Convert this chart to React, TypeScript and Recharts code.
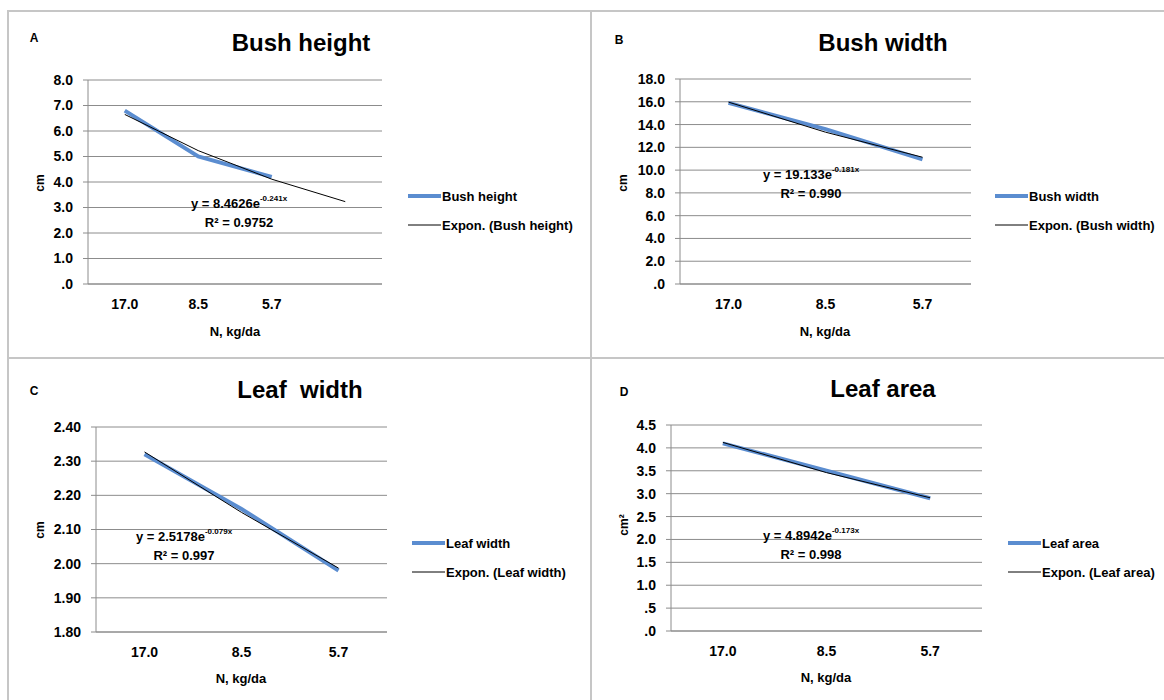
import { LineChart, Line, XAxis, YAxis, CartesianGrid } from "recharts";

// N rates on the category axis (panel A has one forecast slot for the trendline)
const nRates = ["17.0", "8.5", "5.7"];
const nRatesForecast = ["17.0", "8.5", "5.7", ""];

const bushHeight = [6.8, 5.0, 4.2];
const bushHeightTrend = [6.65, 5.23, 4.11, 3.23];
const bushHeightTicks = [0, 1, 2, 3, 4, 5, 6, 7, 8];

const bushWidth = [15.9, 13.6, 10.95];
const bushWidthTrend = [15.97, 13.33, 11.13];
const bushWidthTicks = [0, 2, 4, 6, 8, 10, 12, 14, 16, 18];

const leafWidth = [2.32, 2.16, 1.98];
const leafWidthTrend = [2.327, 2.15, 1.987];
const leafWidthTicks = [1.8, 1.9, 2.0, 2.1, 2.2, 2.3, 2.4];

const leafArea = [4.1, 3.5, 2.9];
const leafAreaTrend = [4.12, 3.46, 2.91];
const leafAreaTicks = [0, 0.5, 1, 1.5, 2, 2.5, 3, 3.5, 4, 4.5];

const FONT = "'Liberation Sans', Arial, sans-serif";
const BLUE = "#5b8dd0";
const GRID = "#8c8c8c";
const FRAME = "#c6c6c6";

const oneDec = (v: number) => v.toFixed(1).replace(/^0/, "");
const twoDec = (v: number) => v.toFixed(2);

type PanelProps = {
  left: number;
  top: number;
  width: number;
  height: number;
  x1: number;
  x2: number;
  y1: number;
  y2: number;
  cats: string[];
  values: number[];
  trend: number[];
  ticks: number[];
  fmt: (v: number) => string;
};

function Panel(p: PanelProps) {
  const data = p.cats.map((c, i) => ({
    cat: c,
    value: i < p.values.length ? p.values[i] : null,
    trend: p.trend[i],
  }));
  const pad = (p.x2 - p.x1) / (2 * p.cats.length);
  const tick = { fontSize: 14, fontWeight: 700, fill: "#000", fontFamily: FONT };
  return (
    <div style={{ position: "absolute", left: p.left, top: p.top }}>
      <LineChart
        width={p.width}
        height={p.height}
        data={data}
        margin={{ top: p.y1 - p.top, right: p.left + p.width - p.x2, bottom: 0, left: 0 }}
      >
        <CartesianGrid vertical={false} stroke={GRID} />
        <XAxis
          dataKey="cat"
          height={p.top + p.height - p.y2}
          interval={0}
          tickLine={false}
          tickSize={0}
          tickMargin={15}
          axisLine={{ stroke: GRID }}
          padding={{ left: pad, right: pad }}
          tick={tick}
        />
        <YAxis
          type="number"
          width={p.x1 - p.left}
          domain={[p.ticks[0], p.ticks[p.ticks.length - 1]]}
          ticks={p.ticks}
          interval={0}
          tickFormatter={p.fmt}
          tickSize={5}
          tickMargin={10}
          axisLine={{ stroke: GRID }}
          tickLine={{ stroke: GRID }}
          tick={tick}
        />
        <Line
          dataKey="value"
          stroke={BLUE}
          strokeWidth={4}
          dot={false}
          isAnimationActive={false}
        />
        <Line
          dataKey="trend"
          stroke="#000"
          strokeWidth={1}
          dot={false}
          isAnimationActive={false}
        />
      </LineChart>
    </div>
  );
}

type NoteProps = {
  letter: string;
  lx: number;
  ly: number;
  title: string;
  tx: number;
  ty: number;
  yLabel: string;
  yx: number;
  yy: number;
  xx: number;
  xy: number;
  coef: string;
  expo: string;
  r2: string;
  ex: number;
  ey: number;
  series: string;
  gx: number;
  gy: number;
};

function Notes(n: NoteProps) {
  return (
    <g fontFamily={FONT} fontWeight={700} fill="#000">
      <text x={n.lx} y={n.ly} fontSize={12} textAnchor="middle" dominantBaseline="central">
        {n.letter}
      </text>
      <text
        x={n.tx}
        y={n.ty}
        fontSize={24}
        textAnchor="middle"
        dominantBaseline="central"
        style={{ whiteSpace: "pre" }}
      >
        {n.title}
      </text>
      <text
        x={n.yx}
        y={n.yy}
        fontSize={12}
        textAnchor="middle"
        dominantBaseline="central"
        transform={`rotate(-90 ${n.yx} ${n.yy})`}
      >
        {n.yLabel}
      </text>
      <text x={n.xx} y={n.xy} fontSize={13} textAnchor="middle" dominantBaseline="central">
        N, kg/da
      </text>
      <text x={n.ex} y={n.ey} fontSize={13} textAnchor="middle" dominantBaseline="central">
        <tspan>y = {n.coef}e</tspan>
        <tspan fontSize={8} dy={-5}>
          {n.expo}
        </tspan>
      </text>
      <text x={n.ex} y={n.ey + 19} fontSize={13} textAnchor="middle" dominantBaseline="central">
        R² = {n.r2}
      </text>
      <line x1={n.gx} x2={n.gx + 33} y1={n.gy} y2={n.gy} stroke={BLUE} strokeWidth={4} />
      <text x={n.gx + 34} y={n.gy} fontSize={13} dominantBaseline="central">
        {n.series}
      </text>
      <line x1={n.gx} x2={n.gx + 33} y1={n.gy + 29} y2={n.gy + 29} stroke="#000" strokeWidth={1} />
      <text x={n.gx + 34} y={n.gy + 29} fontSize={13} dominantBaseline="central">
        Expon. ({n.series})
      </text>
    </g>
  );
}

export default function App() {
  return (
    <div
      style={{
        position: "absolute",
        left: 0,
        top: 0,
        width: 1164,
        height: 700,
        background: "#fff",
        overflow: "hidden",
        fontFamily: FONT,
      }}
    >
      <Panel
        left={8} top={11} width={583} height={347}
        x1={88} x2={382} y1={80} y2={284}
        cats={nRatesForecast} values={bushHeight} trend={bushHeightTrend}
        ticks={bushHeightTicks} fmt={oneDec}
      />
      <Panel
        left={591} top={11} width={573} height={347}
        x1={680} x2={971} y1={79} y2={284}
        cats={nRates} values={bushWidth} trend={bushWidthTrend}
        ticks={bushWidthTicks} fmt={oneDec}
      />
      <Panel
        left={8} top={358} width={583} height={342}
        x1={96} x2={387} y1={427} y2={632}
        cats={nRates} values={leafWidth} trend={leafWidthTrend}
        ticks={leafWidthTicks} fmt={twoDec}
      />
      <Panel
        left={591} top={358} width={573} height={342}
        x1={671} x2={982} y1={425} y2={631}
        cats={nRates} values={leafArea} trend={leafAreaTrend}
        ticks={leafAreaTicks} fmt={oneDec}
      />
      <svg
        width={1164}
        height={700}
        style={{ position: "absolute", left: 0, top: 0, pointerEvents: "none" }}
      >
        <line x1={7} x2={1164} y1={11} y2={11} stroke={FRAME} strokeWidth={2} />
        <line x1={8} x2={8} y1={10} y2={700} stroke={FRAME} strokeWidth={2} />
        <line x1={591} x2={591} y1={10} y2={700} stroke={FRAME} strokeWidth={2} />
        <line x1={7} x2={1164} y1={358} y2={358} stroke={FRAME} strokeWidth={2} />
        <Notes
          letter="A" lx={34} ly={38} title="Bush height" tx={301} ty={42}
          yLabel="cm" yx={40} yy={183} xx={235} xy={331}
          coef="8.4626" expo="-0.241x" r2="0.9752" ex={239} ey={203}
          series="Bush height" gx={408} gy={196}
        />
        <Notes
          letter="B" lx={619} ly={40} title="Bush width" tx={883} ty={42}
          yLabel="cm" yx={623} yy={183} xx={825} xy={331}
          coef="19.133" expo="-0.181x" r2="0.990" ex={811} ey={174}
          series="Bush width" gx={995} gy={196}
        />
        <Notes
          letter="C" lx={34} ly={391} title="Leaf  width" tx={300} ty={389}
          yLabel="cm" yx={40} yy={530} xx={241} xy={678}
          coef="2.5178" expo="-0.079x" r2="0.997" ex={184} ey={536}
          series="Leaf width" gx={412} gy={543}
        />
        <Notes
          letter="D" lx={624} ly={392} title="Leaf area" tx={883} ty={388}
          yLabel="cm²" yx={624} yy={525} xx={826} xy={677}
          coef="4.8942" expo="-0.173x" r2="0.998" ex={811} ey={535}
          series="Leaf area" gx={1008} gy={543}
        />
      </svg>
    </div>
  );
}
